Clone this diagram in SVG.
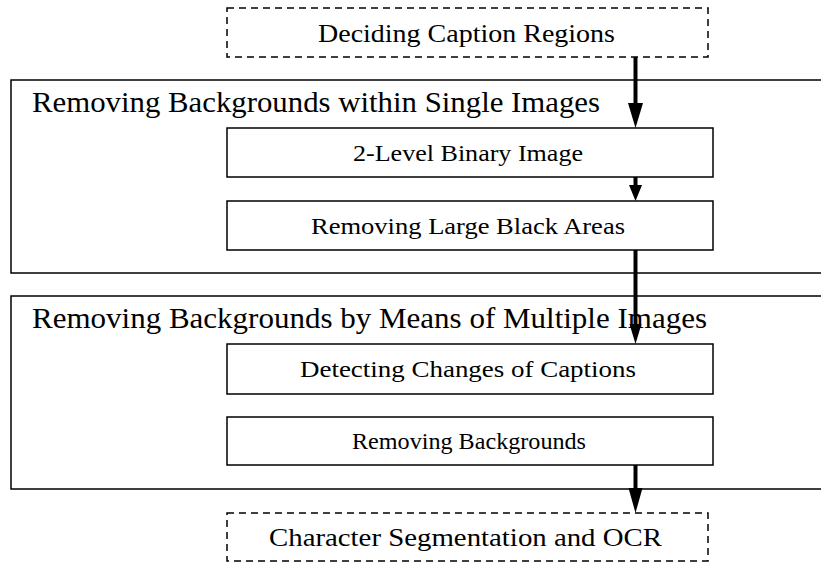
<svg xmlns="http://www.w3.org/2000/svg" width="821" height="563" viewBox="0 0 821 563">
<style>
.box{fill:#fff;stroke:#000;stroke-width:1.5}
.grp{fill:none;stroke:#000;stroke-width:1.5}
.dash{fill:#fff;stroke:#000;stroke-width:1.5;stroke-dasharray:7,5}
text{font-family:"Liberation Serif","Times New Roman",serif;fill:#000}
.t{font-size:24px;text-anchor:middle}
.d{font-size:26px;text-anchor:middle}
.g{font-size:30px}
.ln{stroke:#000;stroke-width:4;fill:none}
</style>
<rect width="821" height="563" fill="#fff"/>
<g id="group1">
<rect class="grp" x="11" y="80" width="830" height="193"/>
<text class="g" x="32" y="112" textLength="568" lengthAdjust="spacingAndGlyphs">Removing Backgrounds within Single Images</text>
</g>
<g id="group2">
<rect class="grp" x="11" y="296" width="830" height="193"/>
<text class="g" x="32" y="328" textLength="675" lengthAdjust="spacingAndGlyphs">Removing Backgrounds by Means of Multiple Images</text>
</g>
<g id="n1">
<rect class="dash" x="227" y="8" width="481" height="49"/>
<text class="d" x="466.5" y="42" textLength="297" lengthAdjust="spacingAndGlyphs">Deciding Caption Regions</text>
</g>
<g id="n2">
<rect class="box" x="227" y="128" width="486" height="49"/>
<text class="t" x="468" y="161" textLength="230" lengthAdjust="spacingAndGlyphs">2-Level Binary Image</text>
</g>
<g id="n3">
<rect class="box" x="227" y="201" width="486" height="49"/>
<text class="t" x="468" y="234" textLength="314" lengthAdjust="spacingAndGlyphs">Removing Large Black Areas</text>
</g>
<g id="n4">
<rect class="box" x="227" y="344" width="486" height="50"/>
<text class="t" x="468" y="377" textLength="336" lengthAdjust="spacingAndGlyphs">Detecting Changes of Captions</text>
</g>
<g id="n5">
<rect class="box" x="227" y="417" width="486" height="48"/>
<text class="t" x="469" y="449" textLength="234" lengthAdjust="spacingAndGlyphs">Removing Backgrounds</text>
</g>
<g id="n6">
<rect class="dash" x="227" y="513" width="481" height="48"/>
<text class="d" x="465.5" y="546" textLength="393" lengthAdjust="spacingAndGlyphs">Character Segmentation and OCR</text>
</g>
<g id="connectors">
<line class="ln" x1="635.5" y1="57" x2="635.5" y2="106"/>
<polygon points="628,103 643,103 635.5,128"/>
<line class="ln" x1="635.5" y1="177" x2="635.5" y2="187"/>
<polygon points="629,185 642,185 635.5,201"/>
<line class="ln" x1="635.5" y1="250" x2="635.5" y2="327"/>
<polygon points="629.5,324 641.5,324 635.5,344"/>
<line class="ln" x1="635.5" y1="465" x2="635.5" y2="491"/>
<polygon points="628.5,488 642.5,488 635.5,513"/>
</g>
</svg>
